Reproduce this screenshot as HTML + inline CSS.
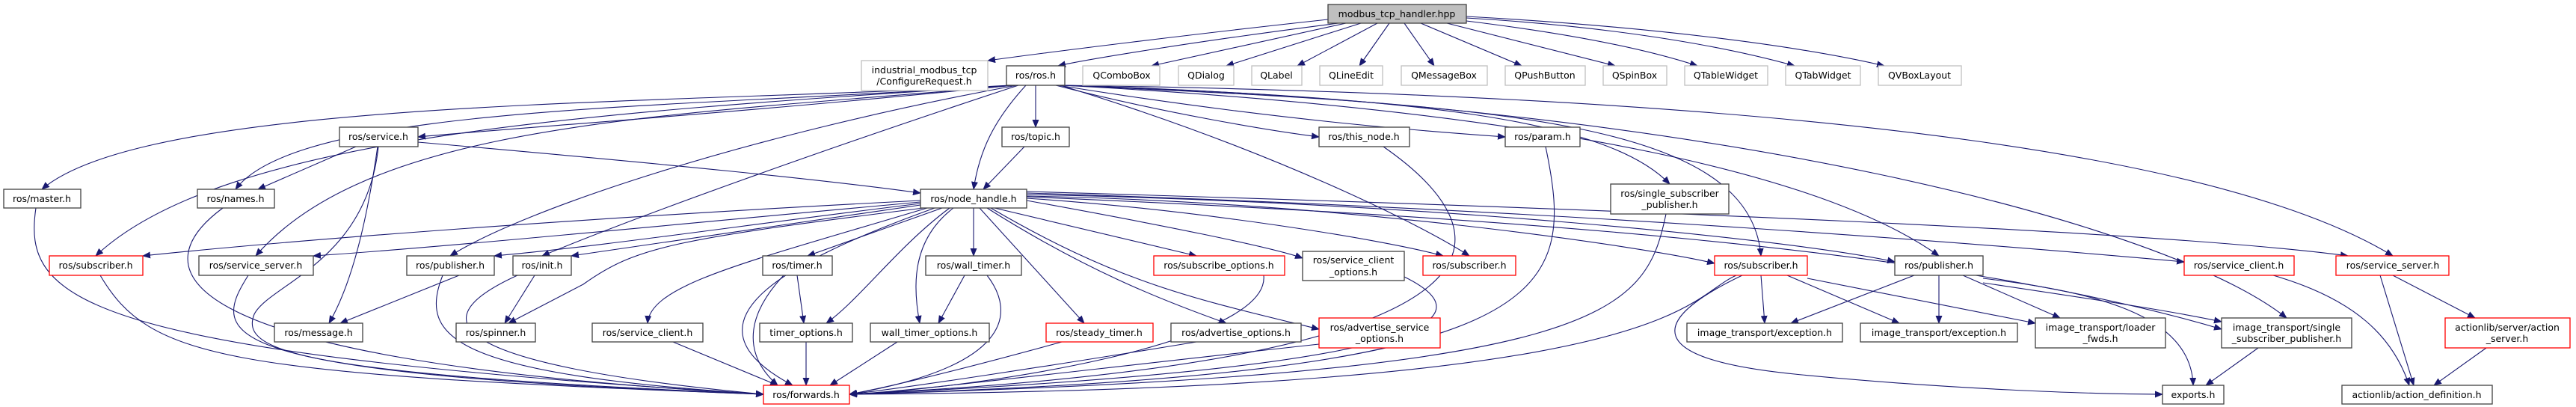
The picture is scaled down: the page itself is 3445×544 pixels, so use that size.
<!DOCTYPE html>
<html><head><meta charset="utf-8"><style>
html,body{margin:0;padding:0;background:#fff;}
svg{display:block;}
text{font-family:"DejaVu Sans","Liberation Sans",sans-serif;font-size:12.5px;fill:#000;text-anchor:middle;}
.e{fill:none;stroke:#191970;stroke-width:1.1;marker-end:url(#a);}
.b{fill:#fff;stroke:#404040;stroke-width:1.3;}
.g{fill:#fff;stroke:#bfbfbf;stroke-width:1.3;}
.r{fill:#fff;stroke:#ff0000;stroke-width:1.3;}
</style></head><body>
<svg width="3445" height="544" viewBox="0 0 3445 544" xmlns="http://www.w3.org/2000/svg">
<defs><marker id="a" markerUnits="userSpaceOnUse" markerWidth="11" markerHeight="9" refX="10" refY="4.5" orient="auto"><path d="M0,0 L11,4.5 L0,9 z" fill="#191970"/></marker></defs>
<g>
<!-- modbus edges -->
<path class="e" d="M1776,26 C1600,45 1400,70 1321,81"/>
<path class="e" d="M1790,31 C1600,55 1450,80 1415,88"/>
<path class="e" d="M1800,31 L1540,88"/>
<path class="e" d="M1820,31 L1640,88"/>
<path class="e" d="M1842,31 L1735,88"/>
<path class="e" d="M1858,31 L1818,88"/>
<path class="e" d="M1878,31 L1918,88"/>
<path class="e" d="M1900,31 L2035,88"/>
<path class="e" d="M1935,31 L2160,88"/>
<path class="e" d="M1961,28 C2100,45 2200,65 2270,88"/>
<path class="e" d="M1961,24 C2150,35 2300,60 2400,88"/>
<path class="e" d="M1961,22 C2200,35 2400,60 2520,88"/>
<!-- ros.h edges -->
<path class="e" d="M1350,114 C900,140 200,130 56,253"/>
<path class="e" d="M1352,114 C900,145 400,140 315,253"/>
<path class="e" d="M1355,114 C1000,150 700,170 559,183"/>
<path class="e" d="M1355,114 C800,150 300,180 128,342"/>
<path class="e" d="M1358,114 C900,155 500,160 342,342"/>
<path class="e" d="M1360,114 C1000,180 700,280 602,342"/>
<path class="e" d="M1362,114 C1100,200 850,290 725,342"/>
<path class="e" d="M1385,114 L1385,170"/>
<path class="e" d="M1372,114 C1330,160 1310,200 1302,253"/>
<path class="e" d="M1412,114 C1550,150 1700,175 1764,183"/>
<path class="e" d="M1415,114 C1700,160 1900,175 2013,183"/>
<path class="e" d="M1418,114 C1900,130 2150,160 2233,246"/>
<path class="e" d="M1418,114 C1700,200 1900,300 1965,342"/>
<path class="e" d="M1420,114 C2000,140 2340,160 2355,342"/>
<path class="e" d="M1420,114 C2100,150 2450,240 2593,342"/>
<path class="e" d="M1424,114 C2300,140 2900,300 3058,425"/>
<path class="e" d="M1424,114 C2500,130 3000,220 3200,342"/>
<!-- topic/service -->
<path class="e" d="M1370,196 L1315,253"/>
<path class="e" d="M476,196 L345,253"/>
<path class="e" d="M559,190 C900,220 1100,240 1231,258"/>
<path class="e" d="M505,196 C490,300 470,380 440,432"/>
<path class="e" d="M506,196 C490,350 360,380 340,420 C320,470 400,500 1021,527"/>
<!-- node_handle edges -->
<path class="e" d="M1231,268 C800,290 400,320 191,342"/>
<path class="e" d="M1231,270 C900,300 600,330 419,342"/>
<path class="e" d="M1231,272 C1000,300 800,330 661,342"/>
<path class="e" d="M1231,274 C1050,300 850,330 764,342"/>
<path class="e" d="M1235,278 C900,320 850,330 780,380 L680,432"/>
<path class="e" d="M1240,278 C1000,350 870,380 866,432"/>
<path class="e" d="M1250,278 C1050,350 900,430 1060,515"/>
<path class="e" d="M1260,278 L1080,342"/>
<path class="e" d="M1270,278 C1200,330 1150,400 1105,432"/>
<path class="e" d="M1275,278 C1220,320 1220,380 1230,432"/>
<path class="e" d="M1302,278 L1302,342"/>
<path class="e" d="M1310,278 L1450,432"/>
<path class="e" d="M1320,278 C1450,360 1550,400 1640,432"/>
<path class="e" d="M1325,278 C1500,380 1600,400 1764,440"/>
<path class="e" d="M1330,278 L1600,342"/>
<path class="e" d="M1373,268 C1550,300 1700,330 1742,345"/>
<path class="e" d="M1373,265 C1600,280 1850,320 1930,342"/>
<path class="e" d="M1373,262 C1800,270 2200,330 2293,352"/>
<path class="e" d="M1373,260 C1900,270 2400,320 2534,350"/>
<path class="e" d="M1373,258 C2100,280 2700,330 2921,350"/>
<path class="e" d="M1373,256 C2200,280 2900,310 3140,342"/>
<path class="e" d="M1373,263 C2000,290 2600,330 2971,440"/>
<!-- into forwards -->
<path class="e" d="M48,278 C30,400 100,470 1021,527"/>
<path class="e" d="M298,278 C200,350 180,480 1021,527"/>
<path class="e" d="M134,368 C200,480 300,500 1021,527"/>
<path class="e" d="M332,368 C280,450 280,500 1021,527"/>
<path class="e" d="M592,368 C560,450 600,500 1021,527"/>
<path class="e" d="M692,368 C600,410 520,480 1021,527"/>
<path class="e" d="M900,457 L1040,515"/>
<path class="e" d="M1048,368 C990,430 1000,480 1040,515"/>
<path class="e" d="M1078,457 L1078,515"/>
<path class="e" d="M1200,457 L1110,515"/>
<path class="e" d="M1320,368 C1360,420 1350,490 1136,527"/>
<path class="e" d="M1420,457 C1300,490 1200,515 1136,527"/>
<path class="e" d="M1600,457 C1400,490 1200,520 1136,527"/>
<path class="e" d="M1764,460 C1400,500 1200,525 1136,527"/>
<path class="e" d="M1690,368 C1700,460 1300,520 1136,527"/>
<path class="e" d="M1878,370 C1980,420 1960,490 1136,527"/>
<path class="e" d="M1850,196 C2000,300 2100,480 1136,527"/>
<path class="e" d="M2067,196 C2110,400 2080,500 1136,527"/>
<path class="e" d="M2228,286 C2200,420 2150,500 1136,527"/>
<path class="e" d="M2322,368 C2250,400 2250,520 1136,527"/>
<!-- right side -->
<path class="e" d="M2355,368 L2360,432"/>
<path class="e" d="M2390,368 L2540,432"/>
<path class="e" d="M2417,372 L2722,432"/>
<path class="e" d="M2330,368 C2200,430 2200,480 2400,500 C2600,520 2800,527 2892,527"/>
<path class="e" d="M2560,368 L2395,432"/>
<path class="e" d="M2593,368 L2593,432"/>
<path class="e" d="M2625,368 L2755,425"/>
<path class="e" d="M2652,378 C2800,400 2900,415 2971,430"/>
<path class="e" d="M2652,372 C2800,390 2930,420 2933,515"/>
<path class="e" d="M3020,465 L2950,515"/>
<path class="e" d="M3040,368 C3150,400 3200,450 3222,515"/>
<path class="e" d="M3183,368 L3228,515"/>
<path class="e" d="M3200,368 L3310,425"/>
<path class="e" d="M3325,465 L3255,515"/>
<path class="e" d="M614,368 L455,432"/>
<path class="e" d="M715,368 L675,432"/>
<path class="e" d="M1066,368 L1075,432"/>
<path class="e" d="M1290,368 L1255,432"/>
</g>
<g>
<rect x="1776" y="6" width="185" height="25" fill="#bfbfbf" stroke="#404040" stroke-width="1.3"/><text x="1868" y="23">modbus_tcp_handler.hpp</text>
<rect class="g" x="1152" y="81" width="169" height="40"/><text x="1236" y="98">industrial_modbus_tcp</text><text x="1236" y="113">/ConfigureRequest.h</text>
<rect class="b" x="1346" y="88" width="78" height="26"/><text x="1385" y="105">ros/ros.h</text>
<rect class="g" x="1448" y="88" width="103" height="26"/><text x="1500" y="105">QComboBox</text>
<rect class="g" x="1576" y="88" width="74" height="26"/><text x="1613" y="105">QDialog</text>
<rect class="g" x="1674" y="88" width="67" height="26"/><text x="1707" y="105">QLabel</text>
<rect class="g" x="1765" y="88" width="84" height="26"/><text x="1807" y="105">QLineEdit</text>
<rect class="g" x="1874" y="88" width="115" height="26"/><text x="1931" y="105">QMessageBox</text>
<rect class="g" x="2013" y="88" width="107" height="26"/><text x="2066" y="105">QPushButton</text>
<rect class="g" x="2144" y="88" width="85" height="26"/><text x="2186" y="105">QSpinBox</text>
<rect class="g" x="2253" y="88" width="111" height="26"/><text x="2308" y="105">QTableWidget</text>
<rect class="g" x="2388" y="88" width="100" height="26"/><text x="2438" y="105">QTabWidget</text>
<rect class="g" x="2512" y="88" width="111" height="26"/><text x="2567" y="105">QVBoxLayout</text>
<rect class="b" x="454" y="170" width="105" height="26"/><text x="506" y="187">ros/service.h</text>
<rect class="b" x="1340" y="170" width="90" height="26"/><text x="1385" y="187">ros/topic.h</text>
<rect class="b" x="1764" y="170" width="121" height="26"/><text x="1824" y="187">ros/this_node.h</text>
<rect class="b" x="2013" y="170" width="100" height="26"/><text x="2063" y="187">ros/param.h</text>
<rect class="b" x="2154" y="246" width="158" height="40"/><text x="2233" y="263">ros/single_subscriber</text><text x="2233" y="278">_publisher.h</text>
<rect class="b" x="5" y="253" width="103" height="25"/><text x="56" y="270">ros/master.h</text>
<rect class="b" x="264" y="253" width="103" height="25"/><text x="315" y="270">ros/names.h</text>
<rect class="b" x="1231" y="253" width="142" height="25"/><text x="1302" y="270">ros/node_handle.h</text>
<rect class="r" x="66" y="342" width="125" height="26"/><text x="128" y="359">ros/subscriber.h</text>
<rect class="b" x="266" y="342" width="153" height="26"/><text x="342" y="359">ros/service_server.h</text>
<rect class="b" x="544" y="342" width="117" height="26"/><text x="602" y="359">ros/publisher.h</text>
<rect class="b" x="686" y="342" width="78" height="26"/><text x="725" y="359">ros/init.h</text>
<rect class="b" x="1020" y="342" width="93" height="26"/><text x="1066" y="359">ros/timer.h</text>
<rect class="b" x="1238" y="342" width="128" height="26"/><text x="1302" y="359">ros/wall_timer.h</text>
<rect class="r" x="1543" y="342" width="175" height="26"/><text x="1630" y="359">ros/subscribe_options.h</text>
<rect class="b" x="1742" y="336" width="136" height="39"/><text x="1810" y="352">ros/service_client</text><text x="1810" y="368">_options.h</text>
<rect class="r" x="1903" y="342" width="124" height="26"/><text x="1965" y="359">ros/subscriber.h</text>
<rect class="r" x="2293" y="342" width="124" height="26"/><text x="2355" y="359">ros/subscriber.h</text>
<rect class="b" x="2534" y="342" width="118" height="26"/><text x="2593" y="359">ros/publisher.h</text>
<rect class="r" x="2921" y="342" width="147" height="26"/><text x="2994" y="359">ros/service_client.h</text>
<rect class="r" x="3124" y="342" width="151" height="26"/><text x="3200" y="359">ros/service_server.h</text>
<rect class="b" x="367" y="432" width="118" height="25"/><text x="426" y="449">ros/message.h</text>
<rect class="b" x="610" y="432" width="106" height="25"/><text x="663" y="449">ros/spinner.h</text>
<rect class="b" x="792" y="432" width="148" height="25"/><text x="866" y="449">ros/service_client.h</text>
<rect class="b" x="1016" y="432" width="124" height="25"/><text x="1078" y="449">timer_options.h</text>
<rect class="b" x="1164" y="432" width="159" height="25"/><text x="1243" y="449">wall_timer_options.h</text>
<rect class="r" x="1399" y="432" width="143" height="25"/><text x="1470" y="449">ros/steady_timer.h</text>
<rect class="b" x="1566" y="432" width="174" height="25"/><text x="1653" y="449">ros/advertise_options.h</text>
<rect class="r" x="1764" y="425" width="162" height="40"/><text x="1845" y="442">ros/advertise_service</text><text x="1845" y="457">_options.h</text>
<rect class="b" x="2256" y="432" width="208" height="25"/><text x="2360" y="449">image_transport/exception.h</text>
<rect class="b" x="2488" y="432" width="210" height="25"/><text x="2593" y="449">image_transport/exception.h</text>
<rect class="b" x="2722" y="425" width="174" height="40"/><text x="2809" y="442">image_transport/loader</text><text x="2809" y="457">_fwds.h</text>
<rect class="b" x="2971" y="425" width="174" height="40"/><text x="3058" y="442">image_transport/single</text><text x="3058" y="457">_subscriber_publisher.h</text>
<rect class="r" x="3270" y="425" width="167" height="40"/><text x="3353" y="442">actionlib/server/action</text><text x="3353" y="457">_server.h</text>
<rect class="r" x="1021" y="515" width="115" height="25"/><text x="1078" y="532">ros/forwards.h</text>
<rect class="b" x="2892" y="515" width="82" height="25"/><text x="2933" y="532">exports.h</text>
<rect class="b" x="3132" y="515" width="201" height="25"/><text x="3232" y="532">actionlib/action_definition.h</text>
</g>
</svg>
</body></html>
